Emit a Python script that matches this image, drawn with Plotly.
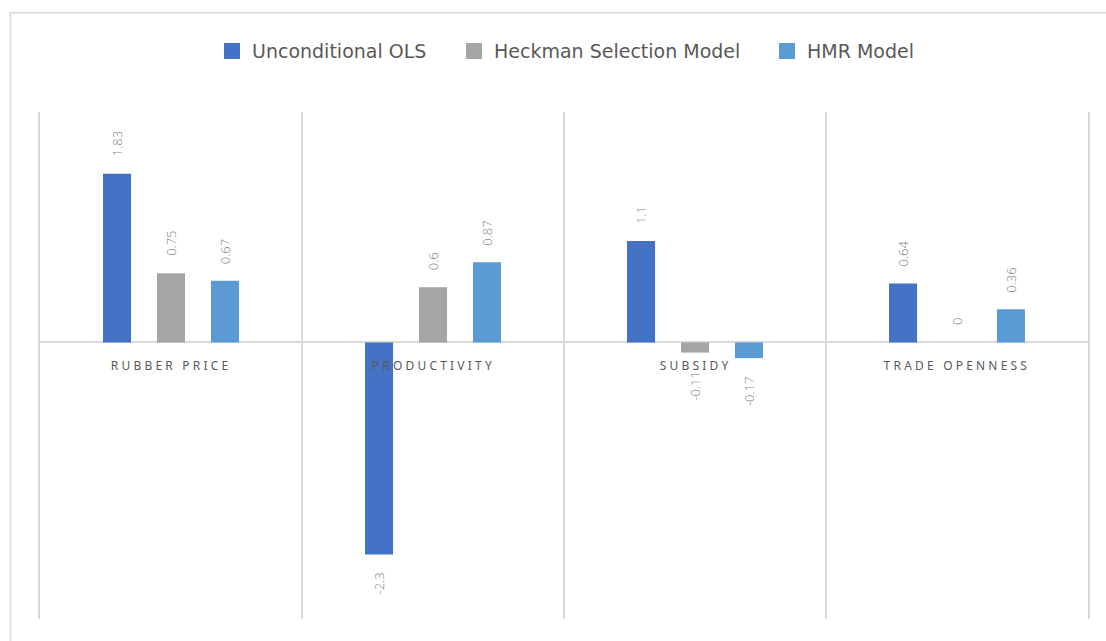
import plotly.graph_objects as go

# Coefficient estimates by variable and model
categories = ["RUBBER PRICE", "PRODUCTIVITY", "SUBSIDY", "TRADE OPENNESS"]
series_names = ["Unconditional OLS", "Heckman Selection Model", "HMR Model"]
ols_values = [1.83, -2.3, 1.1, 0.64]
heckman_values = [0.75, 0.6, -0.11, 0]
hmr_values = [0.67, 0.87, -0.17, 0.36]
series_values = [ols_values, heckman_values, hmr_values]
series_colors = ["#4472C4", "#A5A5A5", "#5B9BD5"]

GRID = "#D9D9D9"
BAR_W = 0.107        # bar width in category units
STEP = 0.206         # distance between bar centres within a category
PLOT_L, PLOT_W = 40, 1048

# legend swatch centres (px) for each series
legend_px = [234, 476, 789]
legend_ids = ["legend", "legend2", "legend3"]

fig = go.Figure()

for k, (name, vals, col) in enumerate(zip(series_names, series_values, series_colors)):
    centre = (k - 1) * STEP
    fig.add_trace(go.Bar(
        x=categories, y=vals, name=name,
        marker=dict(color=col, line=dict(width=0)),
        width=BAR_W, offset=centre - BAR_W / 2,
        showlegend=False, hoverinfo="x+y+name",
    ))
    # legend swatch
    fig.add_trace(go.Scatter(
        x=[None], y=[None], mode="markers", name=name,
        marker=dict(symbol="square", size=16, color=col),
        showlegend=True, legend=legend_ids[k],
    ))
    # rotated value labels
    for i, v in enumerate(vals):
        pos = v >= 0
        fig.add_annotation(
            x=i + centre, y=v, xref="x", yref="y",
            text=f"{v:g}", showarrow=False, textangle=-90,
            yanchor="bottom" if pos else "top",
            yshift=15 if pos else -16,
            font=dict(family="Open Sans, Noto Sans, sans-serif", size=13,
                      color="#858585", weight=300),
        )

# category labels sitting just under the zero line
for i, c in enumerate(categories):
    fig.add_annotation(
        x=c, y=0, xref="x", yref="y", text=c, showarrow=False,
        yanchor="top", yshift=-13,
        font=dict(family="Noto Sans, Open Sans, sans-serif", size=12, color="#595959"),
    )

# outer chart frame
fig.add_shape(type="rect", xref="paper", yref="paper",
              x0=-0.0282, x1=1.03, y0=-0.06, y1=1.196,
              line=dict(color=GRID, width=1.5), fillcolor="rgba(0,0,0,0)", layer="below")

legend_font = dict(family="DejaVu Sans, Noto Sans, sans-serif", size=19, color="#595959")
legend_layout = {}
for lid, px in zip(legend_ids, legend_px):
    legend_layout[lid] = dict(
        orientation="h", x=(px - 22 - PLOT_L) / PLOT_W, xanchor="left",
        y=1.12, yanchor="middle", font=legend_font,
        itemclick=False, itemdoubleclick=False, bgcolor="rgba(0,0,0,0)",
    )

fig.update_layout(
    width=1106, height=641,
    margin=dict(l=40, r=18, t=112, b=22),
    paper_bgcolor="white", plot_bgcolor="white",
    barmode="overlay",
    showlegend=True,
    xaxis=dict(type="category", categoryorder="array", categoryarray=categories,
               range=[-0.5, 3.5], tickson="boundaries", showgrid=True,
               gridcolor=GRID, gridwidth=1.5, showticklabels=False, ticks="",
               zeroline=False, showline=False, fixedrange=True),
    yaxis=dict(range=[-3, 2.5], showgrid=False, showticklabels=False, ticks="",
               zeroline=True, zerolinecolor=GRID, zerolinewidth=1.5,
               showline=True, mirror=True, linecolor=GRID, linewidth=1.5,
               fixedrange=True),
    **legend_layout,
)

# widen the letter spacing of the category labels
post = """
var n = %d;
document.querySelectorAll('g.annotation').forEach(function(g){
  var idx = parseInt(g.getAttribute('data-index'));
  if (idx >= n) {
    var t = g.querySelector('text.annotation-text');
    if (t) { t.style.letterSpacing = '3.2px'; }
  }
});
""" % (len(series_names) * len(categories))

fig.write_html("out.html", post_script=post, config={"displayModeBar": False})
